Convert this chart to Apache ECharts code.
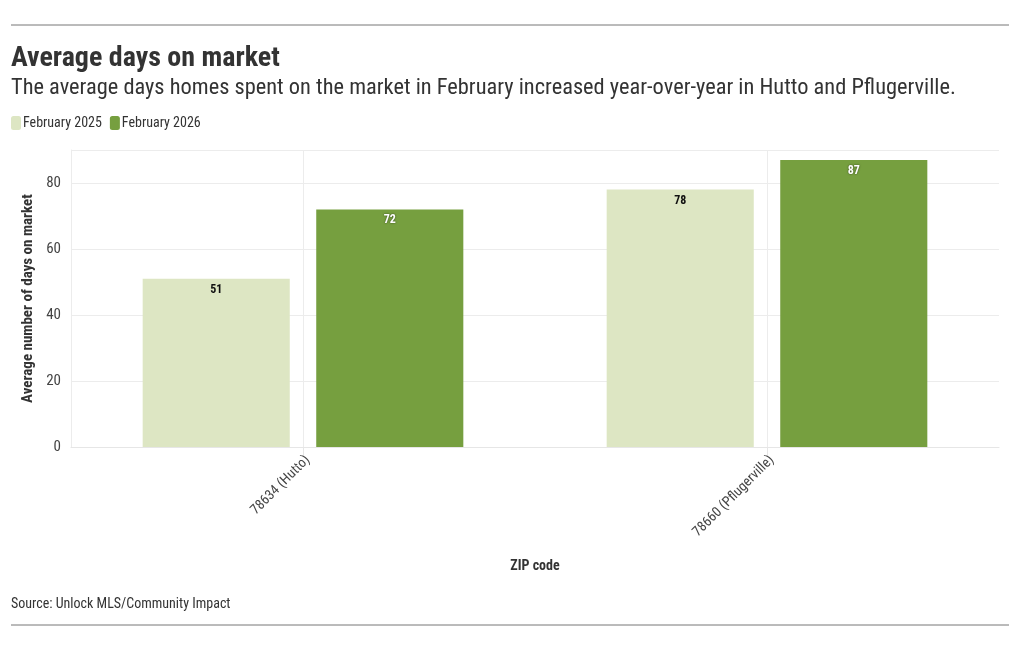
<!DOCTYPE html>
<html><head><meta charset="utf-8">
<script src="https://cdn.jsdelivr.net/npm/echarts@6/dist/echarts.min.js"></script>
<style>html,body{margin:0;padding:0;background:#fff}#c{width:1020px;height:650px}</style>
</head><body><div id="c"></div>
<script>
const categories = ['78634 (Hutto)', '78660 (Pflugerville)'];
const seriesNames = ['February 2025', 'February 2026'];
const feb2025 = [51, 78];
const feb2026 = [72, 87];
const yTicks = [0, 20, 40, 60, 80];

const FONT = '"Roboto Condensed","Liberation Sans Narrow","Roboto",sans-serif';
const chart = echarts.init(document.getElementById('c'));
chart.setOption({
  backgroundColor: '#fff',
  animation: false,
  textStyle: { fontFamily: FONT },
  title: [
    { text: 'Average days on market', left: 6, top: 40, textStyle: { fontFamily: FONT, fontSize: 28, fontWeight: 'bold', color: '#333' } },
    { text: 'The average days homes spent on the market in February increased year-over-year in Hutto and Pflugerville.', left: 6, top: 72, textStyle: { fontFamily: FONT, fontSize: 22.4, fontWeight: 'normal', color: '#333' } },
    { text: 'Source: Unlock MLS/Community Impact', left: 6, top: 592, textStyle: { fontFamily: FONT, fontSize: 14, fontWeight: 'normal', color: '#333' } }
  ],
  legend: {
    left: 6, top: 111, itemWidth: 10, itemHeight: 14, itemGap: 8,
    icon: 'roundRect',
    textStyle: { fontFamily: FONT, fontSize: 14, color: '#333', padding: [0, 0, 0, -3] },
    data: seriesNames
  },
  grid: { left: 71, right: 21, top: 150, bottom: 203, containLabel: false },
  xAxis: {
    type: 'category', data: categories,
    name: 'ZIP code', nameLocation: 'middle', nameGap: 112,
    nameTextStyle: { fontFamily: FONT, fontSize: 14, fontWeight: 'bold', color: '#333' },
    axisLine: { show: true, lineStyle: { color: '#e6e6e6' } },
    axisTick: { show: true, alignWithLabel: true, length: 9, lineStyle: { color: '#e6e6e6' } },
    axisLabel: { rotate: 45, fontFamily: FONT, fontSize: 14, color: '#444', margin: 6, interval: 0, verticalAlign: 'top' }
  },
  yAxis: {
    type: 'value', min: 0, max: 90, interval: 20,
    name: 'Average number of days on market', nameLocation: 'middle', nameGap: 35,
    nameTextStyle: { fontFamily: FONT, fontSize: 15, fontWeight: 'bold', color: '#333' },
    axisLine: { show: true, lineStyle: { color: '#ececec' } },
    axisTick: { show: false },
    axisLabel: { fontFamily: FONT, fontSize: 15, color: '#444', margin: 10,
      formatter: v => yTicks.includes(v) ? String(v) : '' },
    splitLine: { show: true, lineStyle: { color: '#ececec' } }
  },
  series: [
    { name: seriesNames[0], type: 'bar', data: feb2025, barWidth: '31.7%', barGap: '18%',
      itemStyle: { color: '#dde6c3' },
      label: { show: true, position: 'insideTop', distance: 5, fontFamily: FONT, fontSize: 12, fontWeight: 'bold', color: '#111' }
    },
    { name: seriesNames[1], type: 'bar', data: feb2026, barWidth: '31.7%', barGap: '18%',
      itemStyle: { color: '#769f3f' },
      label: { show: true, position: 'insideTop', distance: 5, fontFamily: FONT, fontSize: 12, fontWeight: 'bold', color: '#fff',
        textShadowColor: 'rgba(0,0,0,0.6)', textShadowBlur: 2 } },
    { name: 'gridlines', type: 'line', data: [], silent: true, z: 0,
      markLine: { silent: true, symbol: 'none', label: { show: false }, z: 0,
        lineStyle: { color: '#ececec', type: 'solid', width: 1 },
        data: categories.map(c => ({ xAxis: c })) } }
  ],
  graphic: [
    { type: 'line', shape: { x1: 11, y1: 25, x2: 1009, y2: 25 }, style: { stroke: '#777', lineWidth: 1 } },
    { type: 'line', shape: { x1: 11, y1: 625, x2: 1009, y2: 625 }, style: { stroke: '#777', lineWidth: 1 } }
  ]
});
</script></body></html>
